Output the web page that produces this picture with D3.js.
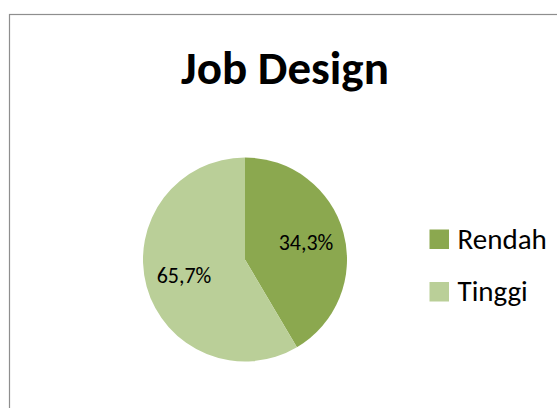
<!DOCTYPE html>
<html>
<head>
<meta charset="utf-8">
<script src="https://cdn.jsdelivr.net/npm/d3@7"></script>
<style>
  body { margin: 0; background: #fff; }
  svg { display: block; }
  text { font-family: Calibri, Carlito, "Open Sans", sans-serif; fill: #000; }
</style>
</head>
<body>
<script>
// slice categories + the shares as drawn in the picture
var categories = ["Rendah", "Tinggi"];
var values = [41.5, 58.5];
// data labels as printed on the chart
var labels = ["34,3%", "65,7%"];
var colors = ["#8BA84F", "#BACF98"];

var width = 557,
    height = 408;

var svg = d3.select("body").append("svg")
  .attr("width", width)
  .attr("height", height);

// chart area border (runs off the right / bottom edge)
svg.append("rect")
  .attr("x", 9.5)
  .attr("y", 14.5)
  .attr("width", 700)
  .attr("height", 600)
  .attr("fill", "#fff")
  .attr("stroke", "#8E8E8E")
  .attr("stroke-width", 1.2);

svg.append("text")
  .attr("x", 285)
  .attr("y", 84)
  .attr("text-anchor", "middle")
  .style("font-size", "47px")
  .style("font-weight", "bold")
  .text("Job Design");

var color = d3.scaleOrdinal().domain(categories).range(colors);

var radius = 102;
var pie = d3.pie().sort(null).value(function(d, i) { return values[i]; });
var arc = d3.arc().innerRadius(0).outerRadius(radius);
var labelArc = d3.arc().innerRadius(radius * 0.62).outerRadius(radius * 0.62);

var g = svg.append("g")
  .attr("transform", "translate(245,259.5)");

var slices = g.selectAll(".slice")
  .data(pie(categories))
  .enter().append("g")
  .attr("class", "slice");

slices.append("path")
  .attr("d", arc)
  .attr("fill", function(d) { return color(d.data); });

slices.append("text")
  .attr("transform", function(d) {
    var c = labelArc.centroid(d);
    return "translate(" + c[0] + "," + c[1] + ")";
  })
  .attr("text-anchor", "middle")
  .attr("dy", "0.33em")
  .style("font-size", "22px")
  .text(function(d, i) { return labels[i]; });

// legend
var ly = d3.scalePoint().domain(categories).range([229.5, 282]);

var legend = svg.selectAll(".legend")
  .data(categories)
  .enter().append("g")
  .attr("class", "legend")
  .attr("transform", function(d) { return "translate(429.5," + ly(d) + ")"; });

legend.append("rect")
  .attr("width", 19.5)
  .attr("height", 19.5)
  .attr("fill", function(d) { return color(d); });

legend.append("text")
  .attr("x", 28)
  .attr("y", 19)
  .style("font-size", "29px")
  .text(function(d) { return d; });
</script>
</body>
</html>
